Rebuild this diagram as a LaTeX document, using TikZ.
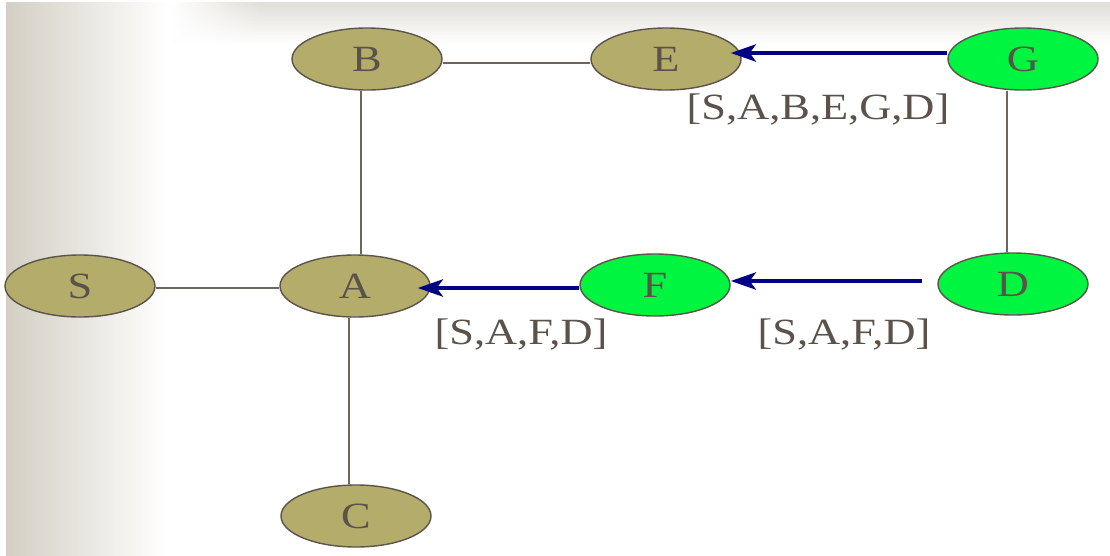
\documentclass[tikz,border=0pt]{standalone}
\usepackage{fontspec}
\usetikzlibrary{shapes.geometric,arrows.meta,fadings}
\newfontfamily\lblfont[FakeStretch=1.2]{Liberation Serif}

\definecolor{bgshade}{RGB}{211,207,196}
\definecolor{topshade}{RGB}{224,222,216}
\definecolor{olivefill}{RGB}{179,172,107}
\definecolor{greenfill}{RGB}{0,245,64}
\definecolor{rimgray}{RGB}{92,84,74}
\definecolor{edgegray}{RGB}{110,102,92}
\definecolor{textgray}{RGB}{91,82,73}
\definecolor{pathnavy}{RGB}{0,0,135}

% horizontal fade-in used at the left end of the top band
\tikzfading[name=bandin, left color=transparent!100, right color=transparent!0]

\tikzset{
  vertex/.style={ellipse, draw=rimgray, line width=1.4pt, minimum width=150pt,
    minimum height=62pt, inner sep=0pt, text=textgray,
    font=\lblfont\fontsize{37}{40}\selectfont},
  visited/.style={vertex, fill=olivefill},
  frontier/.style={vertex, fill=greenfill},
  link/.style={draw=edgegray, line width=2pt},
  backptr/.style={draw=pathnavy, line width=4.5pt,
    -{Stealth[length=25pt,width=17pt,inset=6pt]}},
  pathlabel/.style={text=textgray, inner sep=0pt,
    font=\lblfont\fontsize{37}{40}\selectfont}
}

\begin{document}
\begin{tikzpicture}[x=1pt,y=-1pt]
  \useasboundingbox (0,0) rectangle (1110,555);
  % backdrop
  \fill[white] (0,0) rectangle (1110,555);
  \shade[left color=bgshade, right color=white] (6,2) rectangle (168,555);
  \shade[top color=topshade, bottom color=white, path fading=bandin]
    (170,2) rectangle (260,44);
  \shade[top color=topshade, bottom color=white] (260,2) rectangle (1110,44);

  % vertices
  \node[visited]  (B) at (367,59)  {B};
  \node[visited]  (E) at (666,59)  {E};
  \node[frontier] (G) at (1023,59) {G};
  \node[visited]  (S) at (80,286)  {S};
  \node[visited]  (A) at (355,286) {A};
  \node[frontier] (F) at (655,285) {F};
  \node[frontier] (D) at (1013,284) {D};
  \node[visited]  (C) at (356,516) {C};

  % undirected edges
  \draw[link] ([yshift=-4pt]B.east) -- ([yshift=-4pt]E.west);
  \draw[link] ([xshift=-6pt]B.south) -- ([xshift=6pt]A.north);
  \draw[link] ([yshift=-2pt]S.east) -- ([yshift=-2pt]A.west);
  \draw[link] ([xshift=-6pt]A.south) -- ([xshift=-7pt]C.north);
  \draw[link] ([xshift=-16pt]G.south) -- ([xshift=-6pt]D.north);

  % back pointers
  \draw[backptr] ([yshift=6pt]G.west) -- ([xshift=-11pt,yshift=6pt]E.east);
  \draw[backptr] ([yshift=-3pt]F.west) -- ([xshift=-13pt,yshift=-2pt]A.east);
  \draw[backptr] ([xshift=-15pt,yshift=3pt]D.west) -- ([yshift=4pt]F.east);

  % path labels
  \node[pathlabel] (pG) at (818,110) {[S,A,B,E,G,D]};
  \node[pathlabel] (pA) at (521,335) {[S,A,F,D]};
  \node[pathlabel] (pF) at (844,335) {[S,A,F,D]};
\end{tikzpicture}
\end{document}
